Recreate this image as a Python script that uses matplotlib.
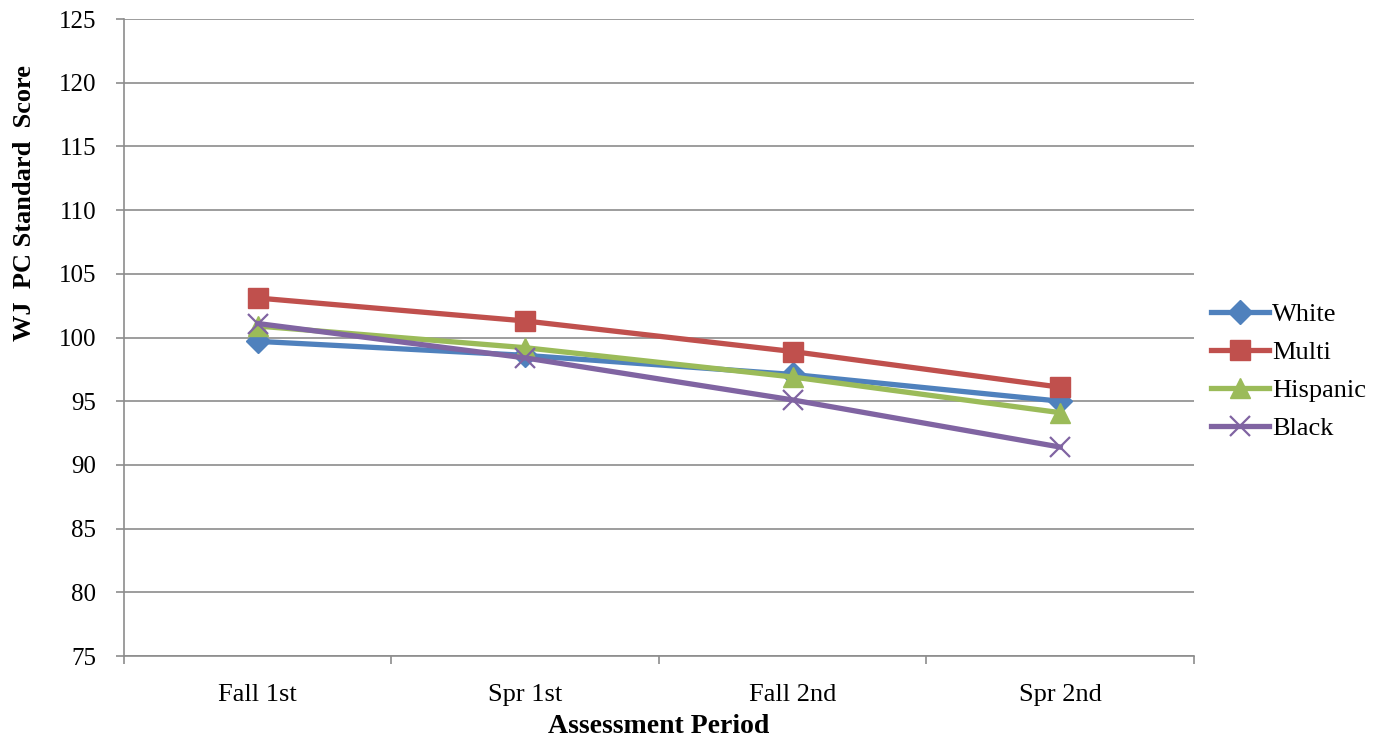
import numpy as np
import matplotlib.pyplot as plt

# Data
periods = ['Fall 1st', 'Spr 1st', 'Fall 2nd', 'Spr 2nd']
white = [99.7, 98.6, 97.1, 95.0]
multi = [103.1, 101.3, 98.9, 96.1]
hispanic = [100.9, 99.2, 96.9, 94.1]
black = [101.1, 98.4, 95.1, 91.4]

plt.rcParams['font.family'] = ['Liberation Serif', 'DejaVu Serif']

fig = plt.figure(figsize=(13.96, 7.40), dpi=100)
ax = fig.add_axes([0.0888, 0.1135, 0.7665, 0.8608])

x = np.arange(len(periods))
ax.plot(x, white, c='#4F81BD', lw=3.8, marker='D', ms=12, label='White')
ax.plot(x, multi, c='#C0504D', lw=3.8, marker='s', ms=14, label='Multi')
ax.plot(x, hispanic, c='#9BBB59', lw=3.8, marker='^', ms=15, label='Hispanic')
ax.plot(x, black, c='#8064A2', lw=3.8, marker='x', ms=14, mew=1.6, label='Black')

ax.set_xlim(-0.5, 3.5)
ax.set_ylim(75, 125)
ax.set_yticks(np.arange(75, 126, 5))
ax.yaxis.grid(True, color='#8C8C8C', lw=1.2)
ax.set_axisbelow(True)

ax.set_xticks(x)
ax.set_xticklabels(periods, fontsize=19)
ax.set_xticks(np.arange(-0.5, 3.6, 1), minor=True)
ax.tick_params(axis='x', which='major', length=0, pad=20)
ax.tick_params(axis='x', which='minor', length=6, width=1.2, color='#8C8C8C')
ax.tick_params(axis='y', labelsize=18, length=6, width=1.2, color='#8C8C8C', pad=14)

for s in ['top', 'right']:
    ax.spines[s].set_visible(False)
for s in ['left', 'bottom']:
    ax.spines[s].set_color('#8C8C8C')
    ax.spines[s].set_linewidth(1.2)

ax.set_xlabel('Assessment Period', fontsize=20, fontweight='bold', labelpad=6)
ax.set_ylabel('WJ  PC Standard  Score', fontsize=19, fontweight='bold')
ax.yaxis.set_label_coords(-0.082, 0.711)

ax.legend(loc='center left', bbox_to_anchor=(1.016, 0.447), frameon=False,
          fontsize=19, handlelength=2.2, handletextpad=0.1, labelspacing=0.55,
          borderpad=0, borderaxespad=0)

fig.savefig('out.png', dpi=100)
